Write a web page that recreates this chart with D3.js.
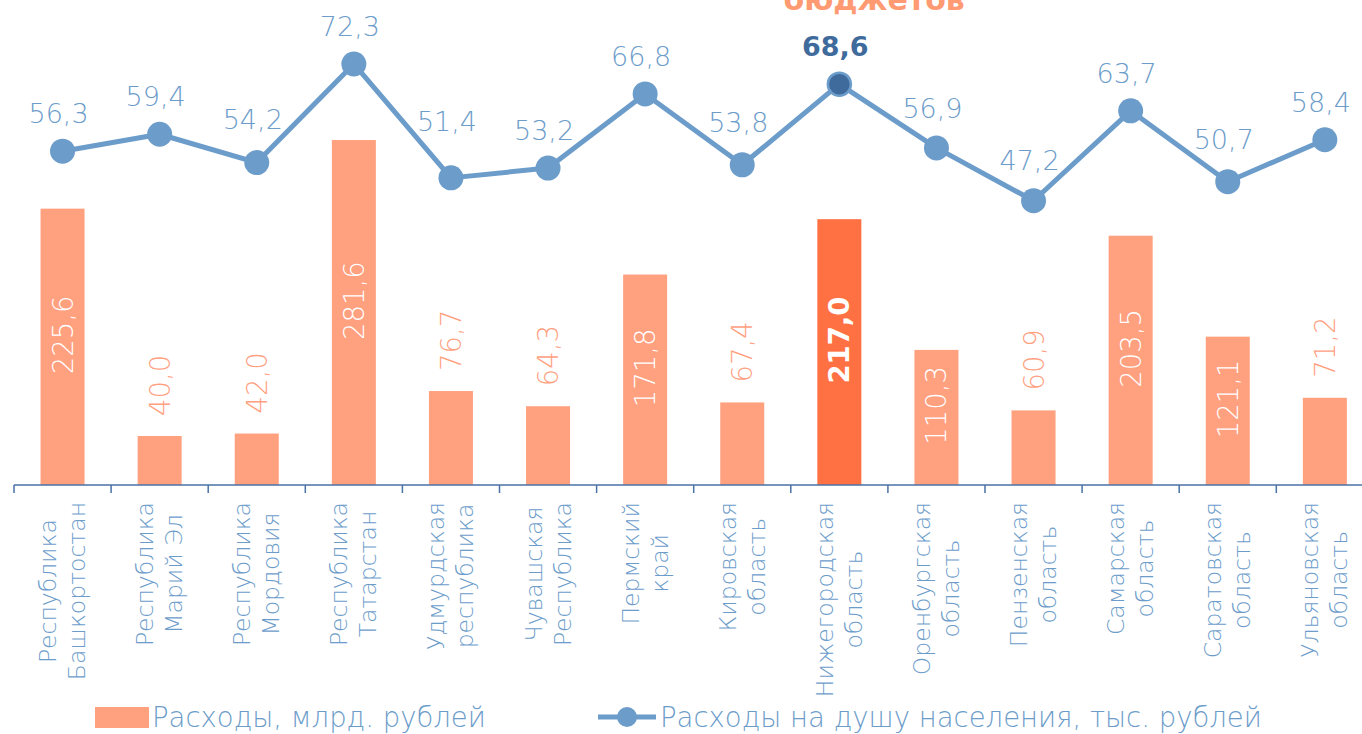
<!DOCTYPE html>
<html>
<head>
<meta charset="utf-8">
<script src="https://cdn.jsdelivr.net/npm/d3@7"></script>
<style>
  html, body { margin: 0; padding: 0; background: #fff; }
  svg text { font-family: "DejaVu Sans", sans-serif; font-weight: 200; }
</style>
</head>
<body>
<div id="chart"></div>
<script>
// regions (two lines each, as on the axis)
const regions = [
  ['Республика', 'Башкортостан'],
  ['Республика', 'Марий Эл'],
  ['Республика', 'Мордовия'],
  ['Республика', 'Татарстан'],
  ['Удмурдская', 'республика'],
  ['Чувашская', 'Республика'],
  ['Пермский', 'край'],
  ['Кировская', 'область'],
  ['Нижегородская', 'область'],
  ['Оренбургская', 'область'],
  ['Пензенская', 'область'],
  ['Самарская', 'область'],
  ['Саратовская', 'область'],
  ['Ульяновская', 'область']
];
// expenses, bn rub
const spending = [225.6, 40.0, 42.0, 281.6, 76.7, 64.3, 171.8, 67.4, 217.0, 110.3, 60.9, 203.5, 121.1, 71.2];
// expenses per capita, thousand rub
const perCapita = [56.3, 59.4, 54.2, 72.3, 51.4, 53.2, 66.8, 53.8, 68.6, 56.9, 47.2, 63.7, 50.7, 58.4];
const highlight = 8; // Нижегородская область
const legendLabels = ['Расходы, млрд. рублей', 'Расходы на душу населения, тыс. рублей'];
const titleTail = 'бюджетов';

const W = 1362, H = 734;
const baseY = 485;
const barColor = '#ffa07f', hiColor = '#ff7143';
const lineColor = '#6c9cca', hiDot = '#3f6b9c', axisColor = '#4a72a6';
const fmt = v => d3.format('.1f')(v).replace('.', ',');

const svg = d3.select('#chart').append('svg')
  .attr('width', W).attr('height', H);

const idx = d3.range(regions.length);
const x = d3.scaleBand().domain(idx).range([14, 14 + 97.1 * regions.length]);
const yBar = d3.scaleLinear().domain([0, 400]).range([baseY, baseY - 490]);
const yLine = d3.scaleLinear().domain([40, 80]).range([240, 22]);
const cx = i => x(i) + x.bandwidth() / 2;

// cut-off title at the very top (it is cropped in the source too)
svg.append('text')
  .attr('x', 874).attr('y', 10)
  .attr('text-anchor', 'middle')
  .style('font-weight', 'bold')
  .attr('font-size', 30)
  .attr('fill', '#ff9a72')
  .text(titleTail);

// bars
const barW = 44;
svg.selectAll('.bar').data(spending).enter().append('rect')
  .attr('x', (d, i) => cx(i) - barW / 2)
  .attr('y', d => yBar(d))
  .attr('width', barW)
  .attr('height', d => baseY - yBar(d))
  .attr('fill', (d, i) => i === highlight ? hiColor : barColor);

// bar labels: inside (white) for tall bars, above for short ones
svg.selectAll('.barLabel').data(spending).enter().append('text')
  .attr('transform', (d, i) => {
    const inside = d > 100;
    const ty = inside ? (yBar(d) + baseY) / 2 - 12 : yBar(d) - 20;
    return `translate(${cx(i) + 10},${ty}) rotate(-90)`;
  })
  .attr('text-anchor', d => d > 100 ? 'middle' : 'start')
  .attr('font-size', 27.5)
  .style('font-weight', (d, i) => i === highlight ? 'bold' : null)
  .attr('fill', d => d > 100 ? '#fff' : barColor)
  .text(d => fmt(d));

// x axis
const axis = svg.append('g').attr('transform', `translate(0,${baseY})`);
axis.append('line')
  .attr('x1', 14).attr('x2', W)
  .attr('stroke', axisColor).attr('stroke-width', 1.5);
axis.selectAll('.tick').data(idx).enter().append('line')
  .attr('x1', i => x(i)).attr('x2', i => x(i))
  .attr('y1', 0).attr('y2', 8)
  .attr('stroke', axisColor).attr('stroke-width', 1.5);

// category labels, rotated, block centred under its top edge
const labTop = 502;
regions.forEach((lines, i) => {
  const g = svg.append('g');
  const t = g.append('text')
    .attr('text-anchor', 'middle')
    .attr('font-size', 23.5)
    .attr('fill', lineColor);
  lines.forEach((s, k) => {
    t.append('tspan').attr('x', 0).attr('y', (k - 0.5) * 29 + 8).text(s);
  });
  const len = d3.max(t.selectAll('tspan').nodes(), n => n.getComputedTextLength());
  g.attr('transform', `translate(${cx(i)},${labTop + len / 2}) rotate(-90)`);
});

// per-capita line
const line = d3.line().x((d, i) => cx(i)).y(d => yLine(d));
svg.append('path').datum(perCapita)
  .attr('d', line)
  .attr('fill', 'none')
  .attr('stroke', lineColor)
  .attr('stroke-width', 5)
  .attr('stroke-linejoin', 'round');

svg.selectAll('.dot').data(perCapita).enter().append('circle')
  .attr('cx', (d, i) => cx(i))
  .attr('cy', d => yLine(d))
  .attr('r', (d, i) => i === highlight ? 11.5 : 12.5)
  .attr('fill', (d, i) => i === highlight ? hiDot : lineColor)
  .attr('stroke', lineColor)
  .attr('stroke-width', (d, i) => i === highlight ? 2.5 : 0);

// label above each point, lifted if the line runs through it
function lineYAt(px) {
  for (let i = 0; i < perCapita.length - 1; i++) {
    const x0 = cx(i), x1 = cx(i + 1);
    if (px >= x0 && px <= x1) {
      const t = (px - x0) / (x1 - x0);
      return yLine(perCapita[i]) + t * (yLine(perCapita[i + 1]) - yLine(perCapita[i]));
    }
  }
  return Infinity;
}
svg.selectAll('.lineLabel').data(perCapita).enter().append('text')
  .attr('x', (d, i) => cx(i) - 4)
  .attr('y', (d, i) => {
    const half = 28;
    const clear = Math.min(lineYAt(cx(i) - 4 - half), lineYAt(cx(i) - 4 + half)) - 9;
    return Math.min(yLine(d) - 28, clear);
  })
  .attr('text-anchor', 'middle')
  .attr('font-size', 27)
  .style('font-weight', (d, i) => i === highlight ? 'bold' : null)
  .attr('fill', (d, i) => i === highlight ? hiDot : lineColor)
  .text(d => fmt(d));

// legend
const lg = svg.append('g');
lg.append('rect')
  .attr('x', 95).attr('y', 707).attr('width', 54).attr('height', 21)
  .attr('fill', barColor);
lg.append('text')
  .attr('x', 152).attr('y', 727)
  .attr('font-size', 27.5).attr('fill', lineColor)
  .text(legendLabels[0]);
lg.append('line')
  .attr('x1', 598).attr('x2', 656).attr('y1', 717).attr('y2', 717)
  .attr('stroke', lineColor).attr('stroke-width', 5);
lg.append('circle')
  .attr('cx', 627).attr('cy', 717).attr('r', 10)
  .attr('fill', lineColor);
lg.append('text')
  .attr('x', 660).attr('y', 727)
  .attr('font-size', 27.5).attr('fill', lineColor)
  .text(legendLabels[1]);
</script>
</body>
</html>
